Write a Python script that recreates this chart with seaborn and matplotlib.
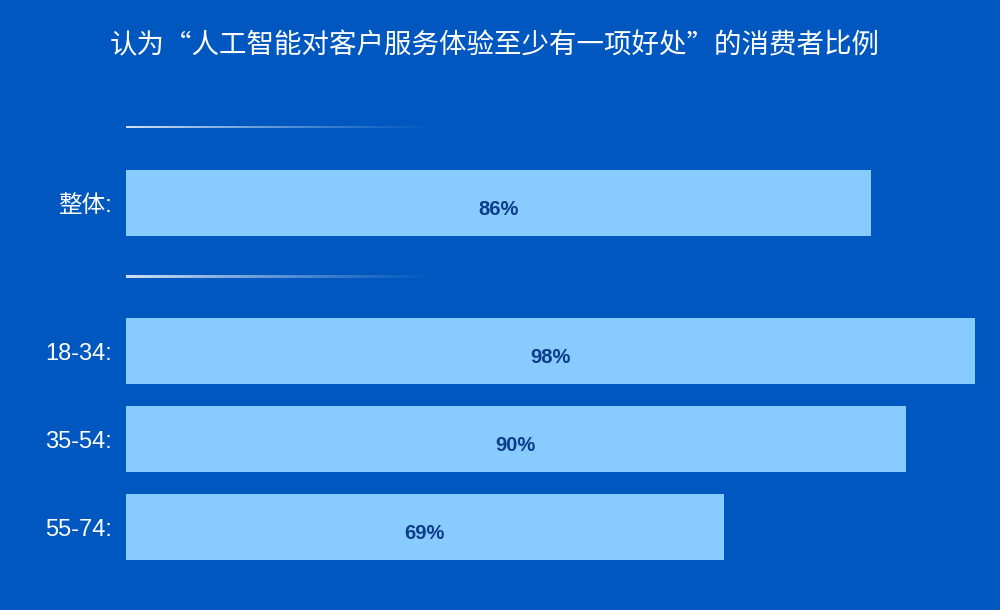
import matplotlib
matplotlib.use("Agg")
import matplotlib.pyplot as plt
import seaborn as sns
import numpy as np
import pandas as pd

# data
title_text = "认为“人工智能对客户服务体验至少有一项好处”的消费者比例"
overall_label = ["整体:"]
overall_value = [86]
age_groups = ["18-34:", "35-54:", "55-74:"]
age_values = [98, 90, 69]

bg = "#0057BF"
bar_color = "#88CCFF"
value_color = "#0E3C8C"

sns.set_theme(style="white")
plt.rcParams["font.family"] = ["Liberation Sans", "Noto Sans CJK SC", "DejaVu Sans"]

fig = plt.figure(figsize=(10, 6.1), dpi=100, facecolor=bg)

ax_all = fig.add_axes([0.126, 1 - 247 / 610, 0.874, 88 / 610])
ax_age = fig.add_axes([0.126, 1 - 571 / 610, 0.874, 264 / 610])

df_all = pd.DataFrame({"group": overall_label, "value": overall_value})
df_age = pd.DataFrame({"group": age_groups, "value": age_values})

for ax, df in [(ax_all, df_all), (ax_age, df_age)]:
    sns.barplot(data=df, x="value", y="group", orient="h", ax=ax,
                color=bar_color, saturation=1, width=0.75, linewidth=0)
    ax.set_xlim(0, 100.9)
    ax.set_facecolor("none")
    for s in ax.spines.values():
        s.set_visible(False)
    ax.set_xlabel("")
    ax.set_ylabel("")
    ax.set_xticks([])
    ax.tick_params(axis="y", length=0, pad=10, labelsize=17, labelcolor="white")
    for lab in ax.get_yticklabels():
        lab.set_fontfamily(["Liberation Sans", "Noto Sans CJK SC"])
    for i, v in enumerate(df["value"]):
        ax.annotate(f"{v}%", xy=(v / 2, i), xytext=(0, -5), textcoords="offset points",
                    ha="center", va="center", fontsize=14.5, fontweight="bold",
                    color=value_color, family="Liberation Sans")

# decorative fading lines (white -> transparent)
grad = np.zeros((1, 256, 4))
grad[..., :3] = 1.0
grad[..., 3] = np.linspace(0.85, 0.0, 256) ** 1.2
for ypix in [127, 277]:
    lax = fig.add_axes([0.126, 1 - (ypix + 1.5) / 610, 0.315, 3 / 610])
    lax.imshow(grad, aspect="auto", interpolation="bilinear")
    lax.set_axis_off()

fig.text(0.495, 1 - 46 / 610, title_text, ha="center", va="center", color="white",
         fontsize=19.8, family=["Noto Sans CJK SC", "DejaVu Sans"])

fig.savefig("out.png", dpi=100, facecolor=bg)
